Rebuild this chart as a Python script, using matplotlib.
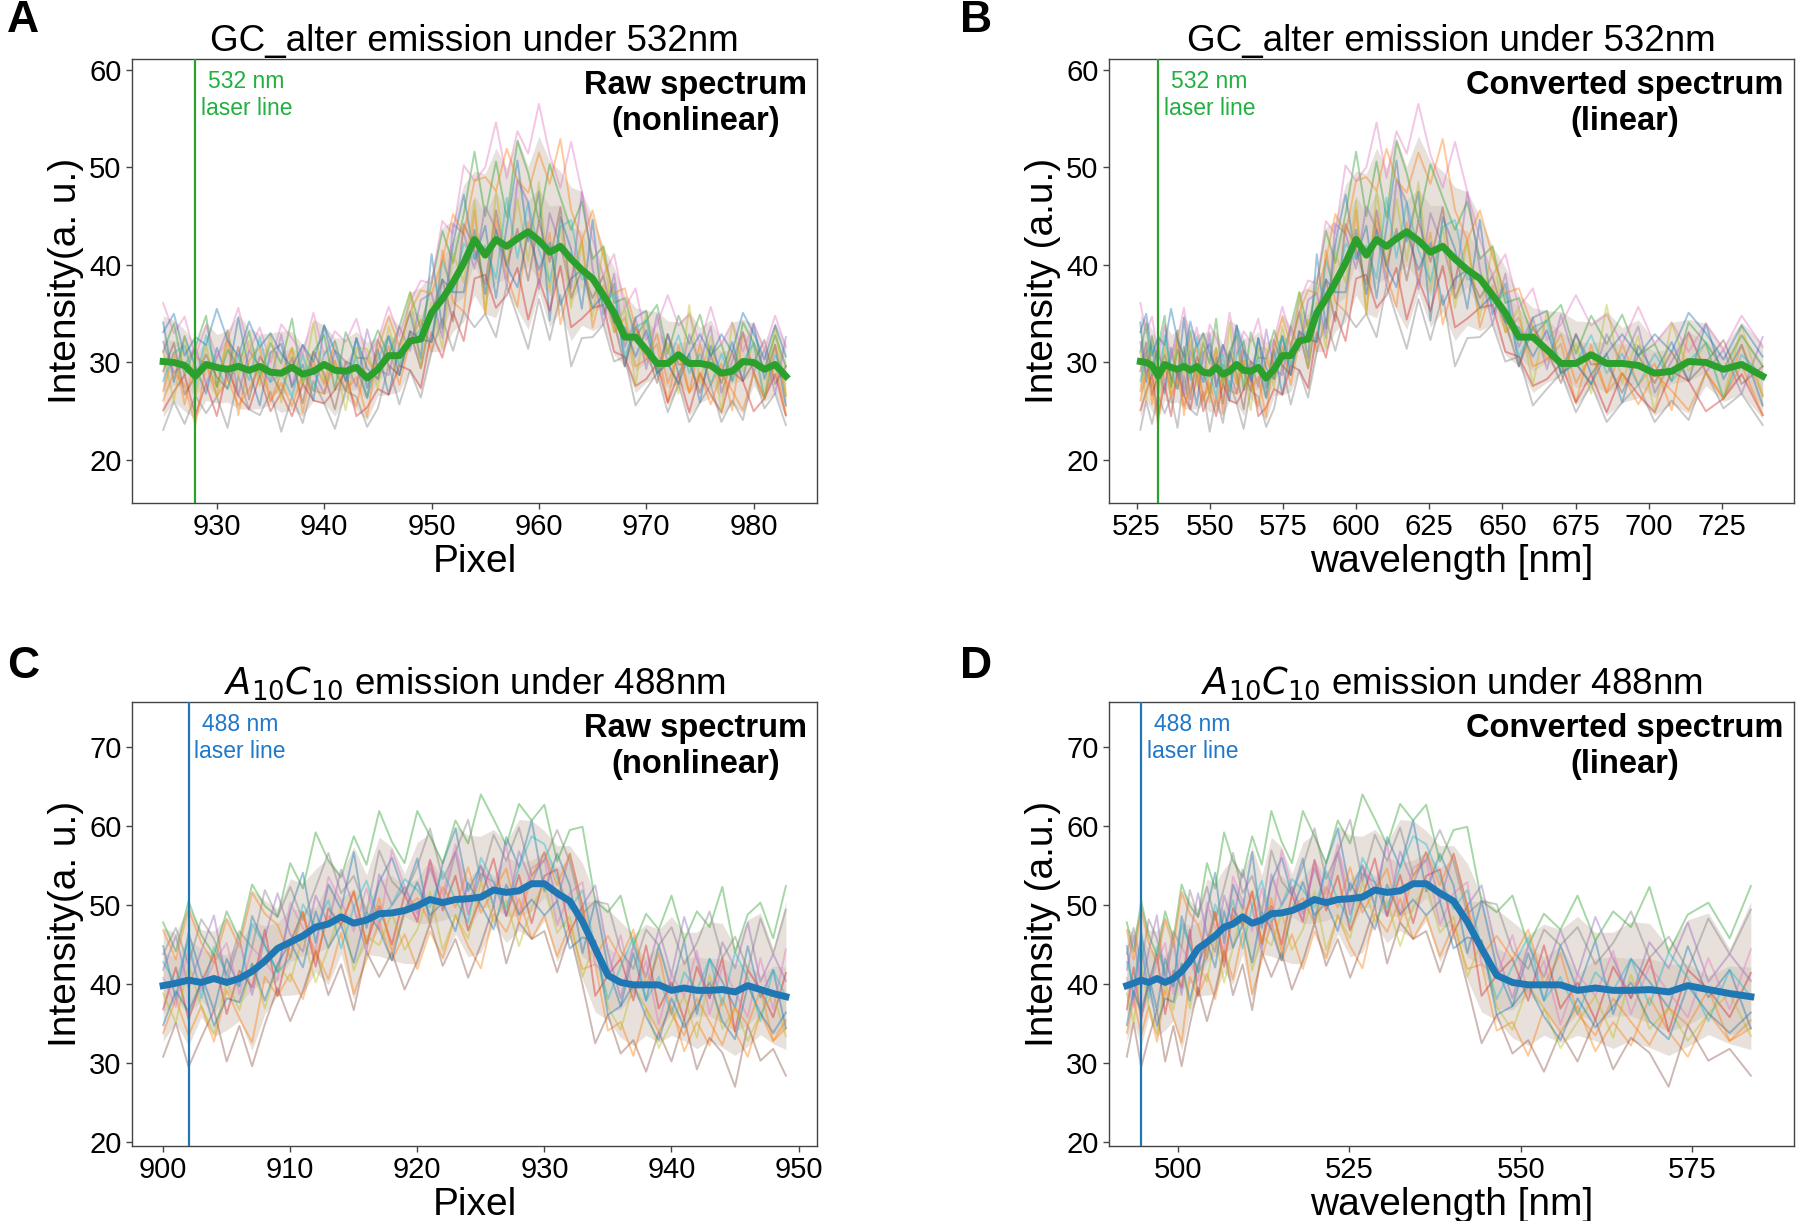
import numpy as np
import matplotlib
matplotlib.use('Agg')
import matplotlib.pyplot as plt

plt.rcParams['font.family'] = ['Liberation Sans', 'DejaVu Sans']
plt.rcParams['mathtext.fontset'] = 'dejavusans'

# ---------------- data: GC_alter under 532 nm ----------------
pixel_gc = list(range(925, 984))
wl_gc = [526.3, 528.3, 530.3, 532.4, 534.6, 536.8, 539.0, 541.2, 543.4, 545.6,
         547.8, 550.0, 552.2, 554.5, 556.8, 559.2, 561.6, 564.0, 566.6, 569.3,
         572.0, 574.8, 577.7, 580.6, 583.6, 586.6, 589.7, 592.9, 596.4, 600.0,
         603.5, 607.0, 610.4, 613.8, 617.3, 621.3, 625.4, 629.6, 633.8, 638.0,
         642.3, 646.6, 651.0, 655.6, 660.4, 665.2, 670.0, 675.1, 680.3, 685.6,
         690.9, 696.4, 702.0, 707.8, 713.6, 719.5, 725.5, 731.7, 738.9]
mean_gc = [30.1, 30.0, 29.7, 28.6, 29.8, 29.5, 29.3, 29.6, 29.2, 29.6,
           29.0, 28.9, 29.5, 28.8, 29.1, 29.8, 29.2, 29.1, 29.5, 28.4,
           29.3, 30.7, 30.7, 32.2, 32.4, 35.1, 36.5, 38.2, 40.2, 42.6,
           41.0, 42.6, 41.9, 42.7, 43.4, 42.5, 41.3, 41.9, 40.6, 39.5,
           38.6, 36.9, 35.1, 32.6, 32.6, 31.3, 29.9, 29.9, 30.8, 29.9,
           29.9, 29.7, 28.9, 29.1, 30.1, 30.0, 29.3, 29.8, 28.6]
laser_px_gc = 928
# individual spectra, as offsets from the mean (estimated)
dev_gc = [
    [4, -2, 3, 1, -3, 2, -1, 5, 0, -4, 2, 3, -2, 1, -3, 4, 0, -2, 3, -1,
     2, -4, 1, 3, -2, 6, -3, 4, 7, -2, 3, -6, 2, 8, -1, 5, -7, 3, 1, -4,
     6, -2, 3, -3, 2, 4, -1, 3, -2, 1, -4, 2, 0, 3, -2, 4, -1, 2, -3],
    [-3, 1, -4, 2, 0, -2, 3, -5, 1, 2, -3, 0, 2, -4, 1, -2, 3, -1, -4, 2,
     -1, 1, -3, 0, 2, -4, 5, -2, -5, 3, -6, 2, -3, -7, 1, -4, 2, -8, -2, 3,
     -5, 1, -2, 2, -3, -1, 2, -4, 1, -3, 2, -2, 1, -4, 3, -1, -3, 2, -2],
    [1, 4, -1, 3, 5, -2, 2, 0, 4, -1, 3, 1, 5, -1, 2, 3, -2, 4, 1, 2,
     4, 0, 3, 5, 1, 3, 7, 2, 5, 9, 4, 8, 3, 10, 6, 2, 9, 5, 3, 7,
     2, 5, 1, 4, 0, 3, 6, 1, 4, 2, 5, 1, 3, -1, 4, 2, 0, 3, 1],
    [-5, -3, -1, -4, -2, -5, 0, -3, -4, -1, -4, -2, -5, -1, -3, -4, -2, 0, -5, -3,
     -2, -4, -1, -3, -5, -2, -6, -3, -8, -4, -2, -7, -5, -3, -9, -4, -6, -2, -7, -5,
     -3, -1, -4, -2, -5, -3, 0, -4, -2, -5, -1, -3, -4, 0, -2, -5, -3, -1, -4],
    [2, -1, 0, 3, -2, 1, 4, -3, 2, 0, -1, 4, -2, 3, 0, -3, 2, 1, -2, 5,
     0, -2, 3, -1, 4, 2, -4, 6, 3, -3, 5, 1, -4, 6, 3, -5, 4, 0, -3, 8,
     1, -3, 4, -1, 2, -2, 5, 0, -3, 3, 0, 4, -2, 1, 3, -1, 2, -3, 4],
    [-1, 2, -3, 0, 1, -1, -2, 2, -3, 1, 0, -2, 1, -3, 2, -1, -4, 1, 0, -2,
     3, -1, -2, 1, -3, 0, 2, -4, 4, -1, -3, 3, -2, 1, -5, 2, -1, 4, -4, 0,
     -2, 2, -1, -3, 1, 0, -2, 3, -1, 0, -3, 1, -1, 2, -2, 0, 3, -2, 1],
    [6, 3, 5, 2, 4, 1, 3, 6, 2, 4, 1, 5, 3, 2, 6, 1, 4, 3, 5, 2,
     3, 5, 2, 4, 6, 3, 8, 5, 10, 6, 9, 12, 7, 11, 8, 14, 10, 6, 12, 8,
     4, 2, 6, 3, 5, 1, 4, 7, 3, 5, 2, 6, 3, 5, 1, 4, 2, 5, 3],
    [-7, -4, -6, -2, -5, -3, -6, -1, -4, -5, -2, -6, -3, -5, -1, -4, -6, -2, -3, -5,
     -4, -1, -5, -3, -6, -4, -2, -7, -5, -9, -6, -10, -4, -8, -12, -6, -9, -5, -11, -7,
     -6, -3, -5, -2, -7, -4, -1, -5, -3, -6, -4, -2, -5, -3, -6, -1, -4, -3, -5],
    [1, -4, 3, -2, 2, -3, 4, -1, 3, -2, 4, -3, 2, -1, 5, -2, 1, -4, 2, 3,
     -2, 3, -1, 5, -3, 1, -5, 3, -2, 4, -6, 5, -2, 4, -3, 6, -4, 2, -5, 3,
     -4, 5, -2, 3, -5, 4, -1, 2, -4, 6, -2, 3, -4, 5, -1, 2, -3, 4, -2],
    [-2, 1, 2, -1, 3, 0, -2, 1, -1, 3, -1, 0, -3, 2, -2, 1, 3, -1, 1, -2,
     1, 2, -1, 0, 1, -3, 4, -1, 2, -2, 1, -4, 5, -2, 3, -1, -3, 2, 4, -1,
     0, -1, 2, -2, 1, 3, -1, 0, 2, -1, 1, -2, 2, -1, 0, 2, -3, 1, 0],
    [3, 5, 1, 4, 2, 6, 3, 1, 5, 2, 4, 2, 0, 3, 1, 4, 2, -1, 3, 1,
     -1, 2, -2, 1, 0, -3, 2, -1, -3, 1, -4, 1, -2, -5, 0, -3, 1, -6, -2, 0,
     -3, 0, -1, 1, -2, 2, -1, 0, -3, 1, 3, 1, 4, 2, 5, 3, 1, 4, 2],
    [-4, -1, -2, -5, 0, -3, -1, -4, -2, 0, -3, -1, -4, 0, -2, -3, 1, -2, -1, -4,
     2, 4, 1, 3, 5, 2, 4, 7, 3, 6, 8, 5, 10, 6, 4, 9, 7, 11, 5, 3,
     7, 4, 2, 5, 1, -1, 3, -2, 0, -3, -1, -4, 0, -2, -5, -1, -3, 0, -4],
]

# ---------------- data: A10C10 under 488 nm ----------------
pixel_ac = list(range(900, 950))
wl_ac = [492.5, 493.5, 494.6, 495.7, 496.9, 498.1, 499.3, 500.5, 501.7, 502.9,
         504.2, 505.4, 506.7, 508.0, 509.4, 510.8, 512.2, 513.6, 515.1, 516.6,
         518.2, 519.9, 521.6, 523.3, 525.1, 526.9, 528.7, 530.5, 532.4, 534.3,
         536.2, 538.2, 540.2, 542.2, 544.3, 546.5, 548.8, 551.1, 553.4, 555.8,
         558.3, 560.9, 563.5, 566.1, 568.8, 571.6, 574.4, 577.4, 580.5, 583.6]
mean_ac = [39.8, 40.1, 40.5, 40.2, 40.7, 40.2, 40.7, 41.6, 42.9, 44.5,
           45.3, 46.1, 47.2, 47.6, 48.5, 47.7, 48.1, 48.9, 49.0, 49.3,
           49.9, 50.7, 50.3, 50.7, 50.8, 51.0, 51.9, 51.6, 51.8, 52.7,
           52.7, 51.5, 50.5, 47.9, 44.5, 41.1, 40.2, 39.9, 39.9, 39.9,
           39.2, 39.5, 39.2, 39.2, 39.3, 39.0, 39.8, 39.3, 38.8, 38.4]
laser_px_ac = 902
dev_ac = [
    [5, -2, 6, 1, -4, 3, -1, 7, 2, -3, 4, 8, -2, 5, 1, 9, -1, 4, 7, 2,
     6, -3, 5, 9, 1, 4, -2, 7, 3, 8, -1, 5, 2, -4, 6, 1, -3, 4, -2, 5,
     0, 6, -3, 4, 1, -2, 5, -1, 3, -4],
    [-6, -2, -7, -3, -8, -1, -5, -9, -2, -6, -4, -8, -3, -7, -2, -9, -5, -1, -6, -3,
     -8, -4, -7, -2, -6, -9, -3, -5, -1, -7, -4, -8, -3, -6, -2, -7, -5, -9, -3, -6,
     -2, -8, -4, -7, -1, -5, -9, -3, -6, -4],
    [8, 4, 10, 6, 3, 9, 5, 11, 7, 4, 10, 6, 12, 8, 5, 11, 7, 13, 9, 6,
     12, 8, 5, 10, 7, 13, 9, 6, 11, 8, 10, 4, 9, 12, 6, 8, 11, 5, 9, 7,
     12, 6, 10, 8, 13, 5, 9, 11, 7, 14],
    [-3, 2, -5, 0, 3, -4, 1, -2, 4, -6, 0, 3, -5, 2, -1, 4, -3, 1, -4, 2,
     -2, 5, -1, 3, -4, 0, 4, -3, 2, -5, 1, 3, -4, 2, -6, 0, 3, -2, 5, -3,
     1, -4, 3, -1, 4, -5, 2, 0, -3, 3],
    [2, 6, -1, 4, 8, 0, 5, -3, 3, 7, 1, -2, 4, 0, 6, 2, -4, 5, 1, 3,
     -1, 4, 0, 6, -2, 3, 1, -3, 5, 0, 4, -1, 6, 2, 8, 3, -2, 5, 1, 7,
     2, 9, 4, -1, 6, 3, 8, 1, 5, 2],
    [-9, -5, -11, -7, -4, -10, -6, -12, -8, -5, -10, -7, -3, -9, -6, -11, -4, -8, -5, -10,
     -7, -3, -8, -5, -10, -6, -2, -9, -4, -7, -6, -10, -4, -8, -12, -5, -9, -7, -11, -6,
     -9, -4, -10, -6, -8, -12, -5, -9, -7, -10],
    [1, -3, 4, -1, 2, 5, -2, 3, 0, -4, 5, 1, -3, 6, 2, -1, 4, -2, 8, 3,
     -2, 5, 1, 7, -1, 4, 0, 6, -3, 2, 3, -4, 1, 5, -2, 0, 6, -1, 3, -5,
     2, -1, 5, -3, 3, 0, -4, 4, -2, 6],
    [4, 7, 2, 8, 5, 1, 6, 3, 9, 4, 7, 2, 5, 9, 3, 6, 1, 8, 4, 2,
     5, 9, 3, 6, 10, 2, 7, 4, 8, 1, 3, 8, 5, 1, 6, 9, 4, 2, 7, 5,
     8, 3, 6, 10, 4, 7, 2, 9, 5, 11],
    [-1, -5, 2, -3, -7, 0, -4, 1, -6, -2, -5, 0, -7, -3, 1, -6, -2, -4, 0, -5,
     -3, 1, -6, -2, -5, 2, -4, -1, -7, -3, 0, -5, -2, -7, 1, -4, -6, 0, -3, -8,
     -4, -1, -6, 2, -5, -2, -7, -3, 0, -5],
    [3, 0, 5, -2, 4, 1, -1, 6, 2, -3, -2, 4, 0, 3, -4, 2, 5, -1, 1, 4,
     2, -1, 4, 0, -3, 5, 1, -2, 3, 6, 5, 2, -1, 4, 0, -3, 2, 6, -2, 1,
     -3, 2, 0, 4, -2, 5, 1, -4, 3, 0],
    [-5, -1, -4, 0, -6, -2, -3, 1, -5, -2, 0, -4, 2, -3, -1, -5, 1, -2, -6, 0,
     3, -2, 0, -4, 2, -1, -5, 1, -3, -2, -4, -1, -6, -2, 1, -5, -3, 0, -4, -7,
     -1, -5, -2, 1, -4, -6, 0, -3, -5, -2],
    [7, 3, 9, 5, 2, 8, 4, 10, 6, 3, -2, 3, -4, 1, -1, 4, -3, 2, -5, 0,
     1, -3, 2, -1, 4, -2, 0, 3, -4, 1, 4, 1, 6, 2, -1, 5, 3, 7, 0, 4,
     -3, -6, -1, -4, -7, -2, -5, 0, -6, -3],
]

W, H = 1800, 1221
fig = plt.figure(figsize=(W / 100, H / 100), dpi=100)

def box(l, t, r, b):
    return [l / W, 1 - b / H, (r - l) / W, (b - t) / H]

axA = fig.add_axes(box(132, 59, 817, 503))
axB = fig.add_axes(box(1109, 59, 1794, 503))
axC = fig.add_axes(box(132, 702, 817, 1146))
axD = fig.add_axes(box(1109, 702, 1794, 1146))

GREEN = '#2ca02c'
GREEN_TXT = '#22b040'
BLUE = '#1f77b4'
BLUE_TXT = '#1f78c8'
BAND = '#b39c88'


def panel(ax, x, mean, devs, laser_x, color, txtcolor, laser_txt, title,
          xlabel, ylabel, tag, ylim, xlim=None):
    mean = np.asarray(mean)
    x = np.asarray(x)
    traces = mean + np.asarray(devs, dtype=float)
    # density of the bundle of spectra
    ax.fill_between(x, np.percentile(traces, 6, axis=0),
                    np.percentile(traces, 94, axis=0),
                    color=BAND, alpha=0.30, lw=0, zorder=1)
    ax.fill_between(x, np.percentile(traces, 25, axis=0),
                    np.percentile(traces, 75, axis=0),
                    color=BAND, alpha=0.22, lw=0, zorder=1)
    for i, tr in enumerate(traces):
        ax.plot(x, tr, color=f'C{i % 10}', alpha=0.42, lw=1.4, zorder=2)
    ax.plot(x, mean, color=color, lw=5, zorder=5)
    ax.axvline(laser_x, color=color, lw=1.6, zorder=4)
    ax.annotate(laser_txt, xy=(laser_x, 1.0), xycoords=('data', 'axes fraction'),
                xytext=(4, -8), textcoords='offset points', ha='left', va='top',
                multialignment='center', color=txtcolor, fontsize=16.5)
    ax.text(0.985, 0.975, tag, transform=ax.transAxes, ha='right', va='top',
            multialignment='center', fontsize=23.5, fontweight='bold')
    ax.set_title(title, fontsize=26.5, pad=6)
    ax.set_xlabel(xlabel, fontsize=28, labelpad=2)
    ax.set_ylabel(ylabel, fontsize=28, labelpad=4)
    ax.set_ylim(*ylim)
    if xlim is not None:
        ax.set_xlim(*xlim)
    ax.tick_params(labelsize=21, length=4, width=1, color='#444444')
    for s in ax.spines.values():
        s.set_color('#444444')
        s.set_linewidth(1.0)


panel(axA, pixel_gc, mean_gc, dev_gc, laser_px_gc, GREEN, GREEN_TXT,
      '532 nm\nlaser line', 'GC_alter emission under 532nm', 'Pixel',
      'Intensity(a. u.)', 'Raw spectrum\n(nonlinear)', (15.6, 61.1))
axA.set_yticks([20, 30, 40, 50, 60])

panel(axB, wl_gc, mean_gc, dev_gc, wl_gc[pixel_gc.index(laser_px_gc)], GREEN, GREEN_TXT,
      '532 nm\nlaser line', 'GC_alter emission under 532nm', 'wavelength [nm]',
      'Intensity (a.u.)', 'Converted spectrum\n(linear)', (15.6, 61.1), (515.6, 749.6))
axB.set_yticks([20, 30, 40, 50, 60])
axB.set_xticks([525, 550, 575, 600, 625, 650, 675, 700, 725])

panel(axC, pixel_ac, mean_ac, dev_ac, laser_px_ac, BLUE, BLUE_TXT,
      '488 nm\nlaser line', r'$A_{10}C_{10}$ emission under 488nm', 'Pixel',
      'Intensity(a. u.)', 'Raw spectrum\n(nonlinear)', (19.5, 75.7))
axC.set_yticks([20, 30, 40, 50, 60, 70])

panel(axD, wl_ac, mean_ac, dev_ac, wl_ac[pixel_ac.index(laser_px_ac)], BLUE, BLUE_TXT,
      '488 nm\nlaser line', r'$A_{10}C_{10}$ emission under 488nm', 'wavelength [nm]',
      'Intensity (a.u.)', 'Converted spectrum\n(linear)', (19.5, 75.7), (489.9, 589.9))
axD.set_yticks([20, 30, 40, 50, 60, 70])
axD.set_xticks([500, 525, 550, 575])

for lab, (fx, fy) in zip('ABCD', [(23, 21), (976, 21), (23, 666), (976, 666)]):
    fig.text(fx / W, 1 - fy / H, lab, ha='center', va='center',
             fontsize=32, fontweight='bold')

fig.savefig('out.png', dpi=100)
